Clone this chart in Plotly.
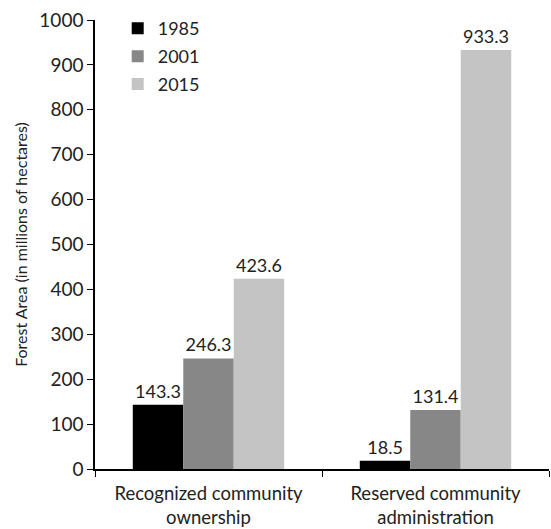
import plotly.graph_objects as go

categories = ["Recognized community<br>ownership", "Reserved community<br>administration"]
years = ["1985", "2001", "2015"]
values_1985 = [143.3, 18.5]
values_2001 = [246.3, 131.4]
values_2015 = [423.6, 933.3]
colors = ["#000000", "#878787", "#c4c4c4"]

font_family = "Lato, Open Sans, sans-serif"

fig = go.Figure()
for name, vals, col in zip(years, [values_1985, values_2001, values_2015], colors):
    fig.add_trace(go.Bar(
        name=name, x=categories, y=vals,
        marker=dict(color=col, line=dict(width=0)),
        text=[f"{v:.1f}" for v in vals],
        textposition="outside",
        textfont=dict(size=18, color="#222222", family=font_family),
        cliponaxis=False,
        legendgroup=name,
    ))

fig.update_layout(
    width=551, height=529,
    margin=dict(l=95, r=2, t=20, b=60),
    paper_bgcolor="white", plot_bgcolor="white",
    barmode="group", bargap=0.333, bargroupgap=0,
    font=dict(family=font_family, size=17, color="#222222"),
    legend=dict(x=0.05, y=1.022, xanchor="left", yanchor="top",
                font=dict(size=18), tracegroupgap=1.5,
                bgcolor="rgba(0,0,0,0)"),
    xaxis=dict(showline=True, linecolor="black", linewidth=1.5,
               ticks="outside", tickson="boundaries", ticklen=6,
               tickcolor="black", tickfont=dict(size=18.5),
               ticklabelstandoff=7, automargin=False),
    yaxis=dict(range=[0, 1000], dtick=100, showline=True, linecolor="black",
               linewidth=1.5, ticks="outside", ticklen=6, tickcolor="black",
               showgrid=False, zeroline=False, tickfont=dict(size=19),
               title=dict(text="Forest Area (in millions of hectares)",
                          font=dict(size=16), standoff=8)),
)

fig.write_html("out.html")
